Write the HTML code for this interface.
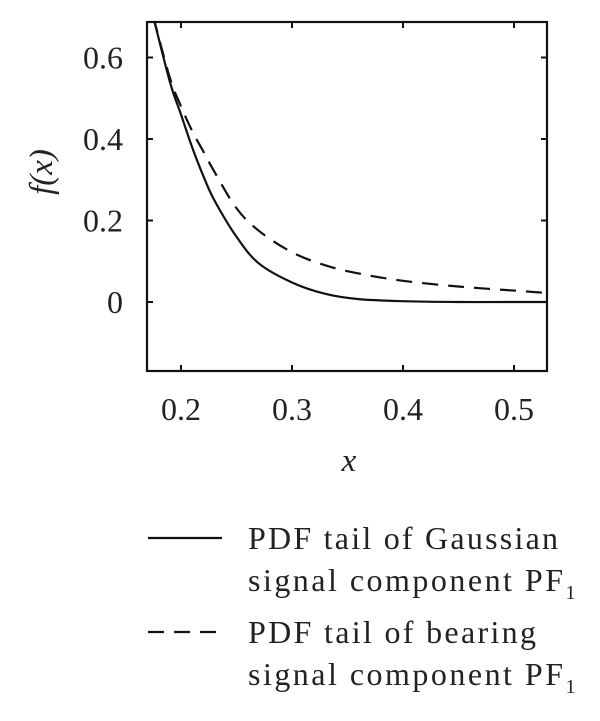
<!DOCTYPE html>
<html><head><meta charset="utf-8"><style>
body{margin:0;background:#fff;}
svg{display:block;font-family:"Liberation Serif",serif;}
</style></head><body>
<svg width="600" height="721" viewBox="0 0 600 721">
<defs><clipPath id="pc"><rect x="147" y="22" width="400" height="349"/></clipPath></defs>
<g id="plot" clip-path="url(#pc)"></g>
<rect x="147" y="22" width="400" height="349" fill="none" stroke="#111" stroke-width="2.2"/>
<g id="axes"></g>
<text x="349" y="471" font-size="33" font-style="italic" text-anchor="middle" fill="#222">x</text>
<text transform="translate(52,172) rotate(-90)" font-size="33" font-style="italic" text-anchor="middle" fill="#222">f(x)</text>
<g font-size="32" fill="#222">
<line x1="148" y1="538" x2="222" y2="538" stroke="#111" stroke-width="2.2"/>
<text x="248" y="549" textLength="310">PDF tail of Gaussian</text>
<text x="248" y="591"><tspan textLength="315">signal component PF</tspan><tspan font-size="20" dy="8">1</tspan></text>
<line x1="148" y1="632" x2="222" y2="632" stroke="#111" stroke-width="2.2" stroke-dasharray="16,10"/>
<text x="248" y="643" textLength="288">PDF tail of bearing</text>
<text x="248" y="685"><tspan textLength="315">signal component PF</tspan><tspan font-size="20" dy="8">1</tspan></text>
</g>
</svg>
<script>
const xs = [0.175,0.19,0.2,0.21,0.22,0.23,0.25,0.27,0.3,0.33,0.36,0.4,0.45,0.5,0.53];
const gaussian = [0.70,0.54,0.46,0.38,0.31,0.25,0.16,0.095,0.048,0.02,0.007,0.002,0,0,0];
const bearing = [0.70,0.55,0.48,0.42,0.37,0.32,0.23,0.175,0.122,0.09,0.07,0.052,0.038,0.028,0.022];
const xTicks = [0.2,0.3,0.4,0.5];
const xTickLabels = ["0.2","0.3","0.4","0.5"];
const yTicks = [0,0.2,0.4,0.6];
const yTickLabels = ["0","0.2","0.4","0.6"];

const NS="http://www.w3.org/2000/svg";
function sx(v){return 181+(v-0.2)*1110;}
function sy(v){return 302-v*407.5;}
function path(ys){
  const p=xs.map((x,i)=>[sx(x),sy(ys[i])]);
  let d="M"+p[0][0]+","+p[0][1];
  for(let i=0;i<p.length-1;i++){
    const p0=p[i-1]||p[i],p1=p[i],p2=p[i+1],p3=p[i+2]||p[i+1];
    const c1=[p1[0]+(p2[0]-p0[0])/6,p1[1]+(p2[1]-p0[1])/6];
    const c2=[p2[0]-(p3[0]-p1[0])/6,p2[1]-(p3[1]-p1[1])/6];
    d+=" C"+c1+" "+c2+" "+p2;
  }
  return d;
}
const plot=document.getElementById('plot');
[[gaussian,'gaussian-curve',''],[bearing,'bearing-curve','16,10']].forEach(s=>{
  const el=document.createElementNS(NS,'path');
  el.setAttribute('d',path(s[0]));
  el.setAttribute('fill','none');el.setAttribute('stroke','#111');el.setAttribute('stroke-width','2.2');
  if(s[2])el.setAttribute('stroke-dasharray',s[2]);
  
  
  plot.appendChild(el);
});
const axes=document.getElementById('axes');
xTicks.forEach((t,i)=>{
  const x=sx(t);
  const l=document.createElementNS(NS,'path');
  l.setAttribute('d',`M${x},371V365M${x},22V28`);l.setAttribute('stroke','#111');l.setAttribute('stroke-width','2');
  
  
  axes.appendChild(l);
  const tx=document.createElementNS(NS,'text');
  tx.setAttribute('x',x);tx.setAttribute('y',420);tx.setAttribute('font-size','32');tx.setAttribute('text-anchor','middle');tx.setAttribute('fill','#222');
  tx.textContent=xTickLabels[i];
  
  
  axes.appendChild(tx);
});
yTicks.forEach((t,i)=>{
  const y=sy(t);
  const l=document.createElementNS(NS,'path');
  l.setAttribute('d',`M147,${y}H153M547,${y}H541`);l.setAttribute('stroke','#111');l.setAttribute('stroke-width','2');
  
  
  axes.appendChild(l);
  const tx=document.createElementNS(NS,'text');
  tx.setAttribute('x',123);tx.setAttribute('y',y+11);tx.setAttribute('font-size','32');tx.setAttribute('text-anchor','end');tx.setAttribute('fill','#222');
  tx.textContent=yTickLabels[i];
  
  
  axes.appendChild(tx);
});
</script>
</body></html>
